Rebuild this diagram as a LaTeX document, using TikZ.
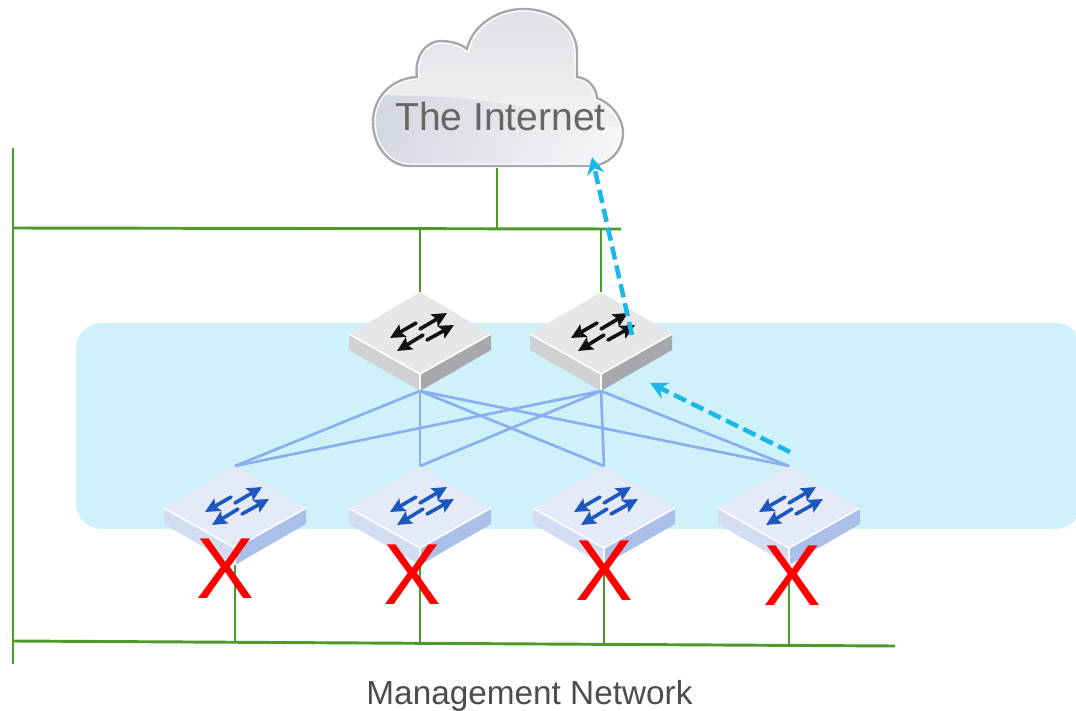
\documentclass[tikz,border=0pt]{standalone}
\usepackage{fontspec}
\setmainfont{Liberation Sans}
\usetikzlibrary{arrows.meta,calc}
\definecolor{band}{HTML}{CFF1FA}
\definecolor{netgreen}{HTML}{4C9A2A}
\definecolor{linkblue}{HTML}{8AAEF0}
\definecolor{flow}{HTML}{1AB8E8}
\definecolor{labelgrey}{HTML}{4A4D50}
\tikzset{
  netline/.style={draw=netgreen,line width=2.2pt},
  link/.style={draw=linkblue,line width=2pt},
  flowarrow/.style={draw=flow,line width=3.4pt,dash pattern=on 10pt off 4.5pt,
    -{Stealth[length=13pt,width=13pt,flow]}},
  xmark/.style={text=red,font=\fontsize{65}{65}\selectfont,inner sep=0pt},
  swarrow/.style={line width=2.7pt,line cap=round,-{Stealth[length=11pt,width=10.5pt,inset=2pt]}},
  pics/switchbox/.style n args={4}{code={
    \coordinate (-top) at (0,0);
    \coordinate (-bot) at (0,99);
    \fill[#1] (0,0) -- (71,42) -- (0,82) -- (-71,42) -- cycle;
    \fill[#2] (-71,42) -- (0,82) -- (0,99) -- (-71,58) -- cycle;
    \fill[#3] (71,42) -- (0,82) -- (0,99) -- (71,58) -- cycle;
    \draw[white,line width=1.2pt] (-71,42) -- (0,82) -- (71,42) (0,82) -- (0,99);
    \draw[swarrow,#4] (-4,31) -- (-30,46);
    \draw[swarrow,#4] (0,37) -- (27,21);
    \draw[swarrow,#4] (3,43) -- (-23,59);
    \draw[swarrow,#4] (7,48) -- (34,33);
  }},
}
\definecolor{sptop}{HTML}{E6E7E9}\definecolor{spleft}{HTML}{D0D1D3}\definecolor{spright}{HTML}{A7A8AB}
\definecolor{lftop}{HTML}{E4EAF8}\definecolor{lfleft}{HTML}{D2DDF2}\definecolor{lfright}{HTML}{ABC0E8}
\definecolor{sparrow}{HTML}{111111}\definecolor{lfarrow}{HTML}{1C57BD}
\definecolor{cloudedge}{HTML}{A6A8B0}
\definecolor{cloudtop}{HTML}{DFE0E4}\definecolor{cloudmid}{HTML}{F0F0F3}
\definecolor{glossl}{HTML}{D6D8E0}\definecolor{glossm}{HTML}{E6E7EC}\definecolor{glossr}{HTML}{F6F6F8}
\begin{document}
\begin{tikzpicture}[x=0.75pt,y=-0.75pt]
\useasboundingbox (0,0) rectangle (1076,711);
\fill[band,rounded corners=19pt] (76,323) rectangle (1081,529);
% cloud
\def\cloudpath{(417,77) .. controls (414,58) and (425,41) .. (441,41)
  .. controls (451,41) and (461,44) .. (467,49)
  .. controls (472,26) and (497,9) .. (523,9)
  .. controls (555,9) and (578,28) .. (577,55) -- (577,77)
  .. controls (588,78) and (596,87) .. (597,98)
  .. controls (612,104) and (623,118) .. (623,133)
  .. controls (623,152) and (607,166) .. (590,166) -- (410,166)
  .. controls (388,166) and (373,145) .. (373,122)
  .. controls (373,96) and (393,78) .. (417,77) -- cycle}
\begin{scope}
  \clip \cloudpath;
  \shade[top color=cloudtop,bottom color=cloudmid] (360,0) rectangle (640,110);
  \fill[cloudmid] (360,100) rectangle (640,145);
  \shade[left color=glossl,right color=glossr,middle color=glossm,shading angle=70] (360,96)
    .. controls (470,92) and (560,110) .. (640,135) -- (640,175) -- (360,175) -- cycle;
  \draw[white,line width=4pt] \cloudpath;
\end{scope}
\draw[draw=cloudedge,line width=1.8pt,fill=none] \cloudpath;
\node[text=black!60!white,font=\fontsize{29.3}{30}\selectfont,inner sep=0pt] (inet) at (500.5,117) {The Internet};
\coordinate (cloudfoot) at (497,168);
% green network
\coordinate (t1) at (13,148);
\coordinate (t2) at (13,664);
\coordinate (h1) at (13,228);
\coordinate (h2) at (621,229);
\coordinate (b1) at (13,641);
\coordinate (b2) at (895,646);
\coordinate (jc) at (497,228);
\coordinate (j1) at (420,228);
\coordinate (j2) at (601,228);
\coordinate (g1) at (235,643);
\coordinate (g2) at (420,643);
\coordinate (g3) at (604,645);
\coordinate (g4) at (789,646);
\draw[netline] (t1) -- (t2);
\draw[netline] (h1) -- (h2);
\draw[netline] (b1) -- (b2);
\draw[netline] (cloudfoot) -- (jc);
% switches
\pic (s1) at (420,292) {switchbox={sptop}{spleft}{spright}{sparrow}};
\pic (s2) at (601,292) {switchbox={sptop}{spleft}{spright}{sparrow}};
\pic (l1) at (235,466) {switchbox={lftop}{lfleft}{lfright}{lfarrow}};
\pic (l2) at (420,466) {switchbox={lftop}{lfleft}{lfright}{lfarrow}};
\pic (l3) at (604,466) {switchbox={lftop}{lfleft}{lfright}{lfarrow}};
\pic (l4) at (789,466) {switchbox={lftop}{lfleft}{lfright}{lfarrow}};
\draw[netline] (j1) -- (s1-top);
\draw[netline] (j2) -- (s2-top);
\draw[netline] (l1-bot) -- (g1);
\draw[netline] (l2-bot) -- (g2);
\draw[netline] (l3-bot) -- (g3);
\draw[netline] (l4-bot) -- (g4);
% fabric links
\foreach \s in {s1,s2}\foreach \l in {l1,l2,l3,l4}{\draw[link] (\s-bot) -- (\l-top);}
% red crosses
\node[xmark] (x1) at (225,569) {X};
\node[xmark] (x2) at (412.5,574.5) {X};
\node[xmark] (x3) at (604,571) {X};
\node[xmark] (x4) at (792,576) {X};
% flows
\coordinate (fa) at (632,335);
\coordinate (fb) at (592,157);
\coordinate (fc) at (790,452);
\coordinate (fd) at (650,383);
\draw[flowarrow] (fa) -- (fb);
\draw[flowarrow] (fc) -- (fd);
\node[text=labelgrey,font=\fontsize{25}{26}\selectfont,inner sep=0pt] (mgmt) at (529.5,696) {Management Network};
\end{tikzpicture}
\end{document}
